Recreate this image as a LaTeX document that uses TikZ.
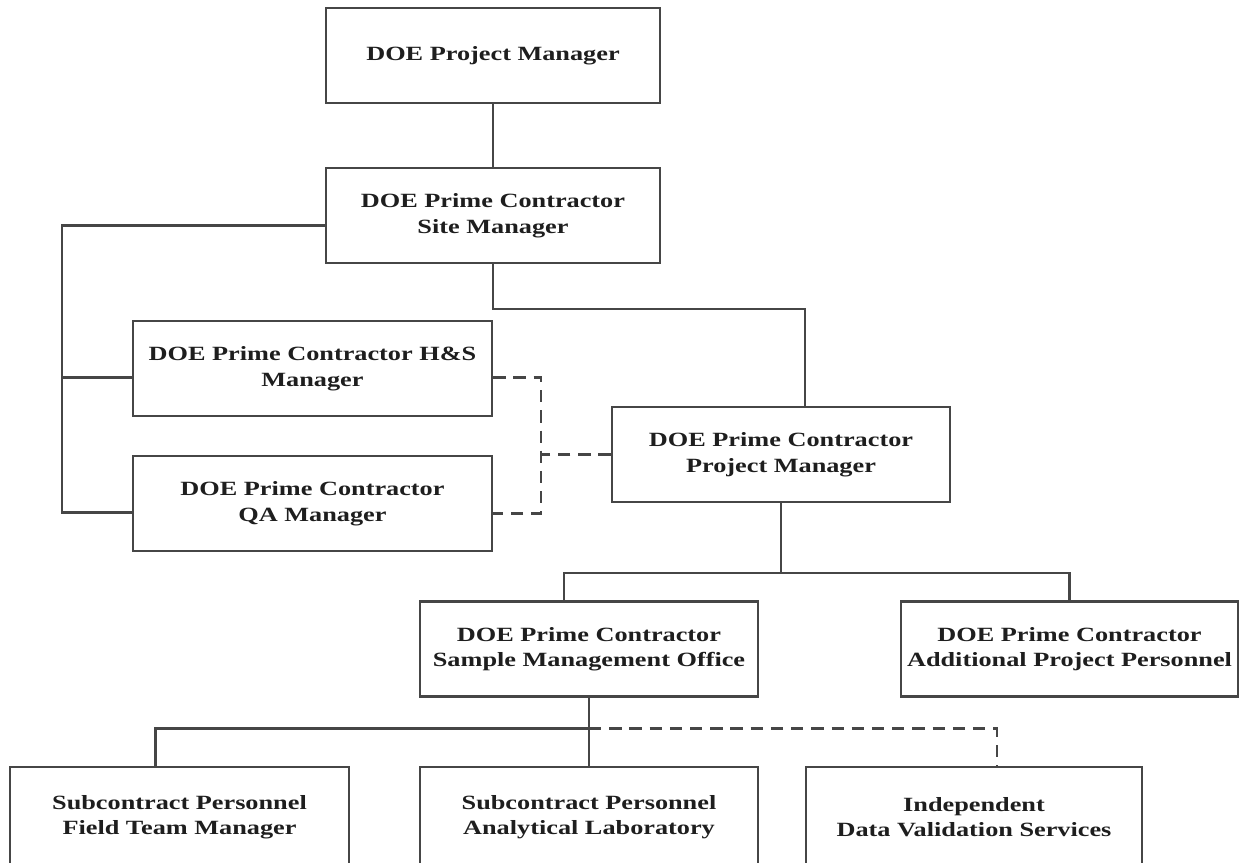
\documentclass[tikz,border=0pt]{standalone}
\usepackage{fontspec}
\setmainfont{Liberation Serif}[FakeStretch=1.3]
\usetikzlibrary{positioning,calc}
\definecolor{rule}{RGB}{70,70,70}
\definecolor{ink}{RGB}{30,30,30}
\tikzset{
  orgbox/.style={draw=rule,line width=1.4pt,fill=white,minimum width=#1,
    minimum height=1.9cm,align=center,text=ink,
    font=\fontsize{11.5}{14.5}\selectfont\bfseries},
  orgbox/.default=6.76cm,
  link/.style={draw=rule,line width=1.4pt},
  dotlink/.style={draw=rule,line width=1.4pt,dash pattern=on 7pt off 4.5pt},
}
\begin{document}
\begin{tikzpicture}
  \clip (0,0) rectangle (24.78,17.24);
  \fill[white] (0,0) rectangle (24.78,17.24);
  % top of the chart
  \node[orgbox=6.68cm] (pmdoe) at (9.86,16.13) {DOE Project Manager};
  \node[orgbox=6.68cm] (site) at (9.86,12.93) {DOE Prime Contractor\\Site Manager};
  \node[orgbox=7.18cm] (hs) at (6.25,9.87) {DOE Prime Contractor H\&S\\Manager};
  \node[orgbox=7.18cm] (qa) at (6.25,7.17) {DOE Prime Contractor\\QA Manager};
  \node[orgbox] (pm) at (15.62,8.15) {DOE Prime Contractor\\Project Manager};
  % middle row
  \node[orgbox] (smo) at (11.78,4.26) {DOE Prime Contractor\\Sample Management Office};
  \node[orgbox=6.7cm] (app) at (21.39,4.26) {DOE Prime Contractor\\Additional Project Personnel};
  % bottom row
  \node[orgbox=6.78cm,minimum height=2cm] (ftm) at (3.59,0.9) {Subcontract Personnel\\Field Team Manager};
  \node[orgbox,minimum height=2cm] (lab) at (11.78,0.9) {Subcontract Personnel\\Analytical Laboratory};
  \node[orgbox=6.72cm,minimum height=2cm] (idv) at (19.48,0.9) {Independent\\Data Validation Services};

  \coordinate (lbus) at (1.24,0);
  \coordinate (hsin) at ([yshift=-1.8mm]hs.west);
  \coordinate (qain) at ([yshift=-1.8mm]qa.west);
  \coordinate (hsout) at ([yshift=-1.8mm]hs.east);
  \coordinate (qaout) at ([yshift=-2mm]qa.east);

  \draw[link] (pmdoe) -- (site);
  \draw[link] ([yshift=-2mm]site.west) -| (lbus |- qain) -- (qain);
  \draw[link] (lbus |- hsin) -- (hsin);
  \draw[link] (site.south) -- ++(0,-0.9) -| ([xshift=4.8mm]pm.north);
  \draw[dotlink] (hsout) -- ++(0.96,0) coordinate (dbus) |- (qaout);
  \draw[dotlink] (pm.west) -- (dbus |- pm.west);

  \draw[link] (pm.south) -- ++(0,-1.4) coordinate (pmbus);
  \draw[link] ([xshift=-5mm]smo.north) |- (pmbus) -| (app.north);

  \draw[link] (smo.south) -- (lab.north);
  \draw[link] (smo.south) ++(0,-0.62) coordinate (smobus) -| ([xshift=-4.8mm]ftm.north);
  \draw[dotlink] (smobus) -| ([xshift=4.6mm]idv.north);
\end{tikzpicture}
\end{document}
